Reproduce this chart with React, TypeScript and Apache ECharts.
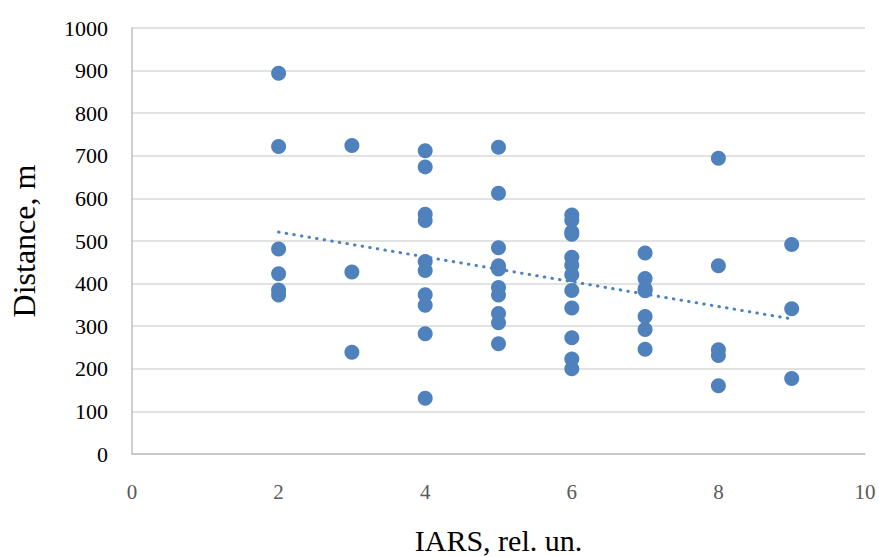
import React, { useEffect, useRef } from "react";
import * as echarts from "echarts";

const xTickLabels = ["0", "2", "4", "6", "8", "10"];
const yTickLabels = ["0", "100", "200", "300", "400", "500", "600", "700", "800", "900", "1000"];

const iars2 = [894, 722, 481, 423, 385, 373];
const iars3 = [724, 427, 239];
const iars4 = [712, 674, 563, 548, 452, 431, 374, 349, 282, 131];
const iars5 = [720, 612, 484, 442, 434, 391, 373, 330, 308, 259];
const iars6 = [561, 549, 521, 516, 462, 443, 421, 384, 343, 273, 223, 200];
const iars7 = [472, 412, 388, 383, 323, 292, 246];
const iars8 = [694, 442, 245, 231, 160];
const iars9 = [492, 341, 177];

const columns: [number, number[]][] = [
  [2, iars2],
  [3, iars3],
  [4, iars4],
  [5, iars5],
  [6, iars6],
  [7, iars7],
  [8, iars8],
  [9, iars9],
];

const points: [number, number][] = [];
columns.forEach(([x, ys]) => ys.forEach((y) => points.push([x, y])));

function linearFit(pts: [number, number][]) {
  const n = pts.length;
  let sx = 0, sy = 0, sxx = 0, sxy = 0;
  pts.forEach(([x, y]) => {
    sx += x; sy += y; sxx += x * x; sxy += x * y;
  });
  const slope = (n * sxy - sx * sy) / (n * sxx - sx * sx);
  const intercept = (sy - slope * sx) / n;
  return { slope, intercept };
}

const fit = linearFit(points);
const xs = points.map((p) => p[0]);
const xMin = Math.min(...xs);
const xMax = Math.max(...xs);
const trend: [number, number][] = [
  [xMin, fit.intercept + fit.slope * xMin],
  [xMax, fit.intercept + fit.slope * xMax],
];

const BLUE = "#4F81BD";
const FONT = "'Liberation Serif', 'DejaVu Serif', serif";

export default function App() {
  const ref = useRef<HTMLDivElement>(null);
  useEffect(() => {
    if (!ref.current) return;
    const chart = echarts.init(ref.current, null, { renderer: "svg" });
    chart.setOption({
      animation: false,
      backgroundColor: "#ffffff",
      grid: {
        left: 132,
        top: 28,
        width: 733,
        height: 426,
        containLabel: false,
        outerBoundsMode: "none",
      },
      xAxis: {
        type: "value",
        min: 0,
        max: 10,
        interval: 2,
        name: "IARS, rel. un.",
        nameLocation: "middle",
        nameGap: 71,
        nameTextStyle: { fontFamily: FONT, fontSize: 30, color: "#000000" },
        axisLine: { show: true, lineStyle: { color: "#BFBFBF", width: 1.5 } },
        axisTick: { show: false },
        splitLine: { show: false },
        axisLabel: {
          margin: 27,
          fontFamily: FONT,
          fontSize: 21,
          color: "#595959",
          formatter: (v: number) => xTickLabels[Math.round(v / 2)] ?? String(v),
        },
      },
      yAxis: {
        type: "value",
        min: 0,
        max: 1000,
        interval: 100,
        name: "Distance, m",
        nameLocation: "middle",
        nameGap: 92,
        nameRotate: 90,
        nameTextStyle: { fontFamily: FONT, fontSize: 32, color: "#000000" },
        axisLine: { show: true, lineStyle: { color: "#BFBFBF", width: 1.5 } },
        axisTick: { show: false },
        splitLine: { show: true, lineStyle: { color: "#D9D9D9", width: 1.5 } },
        axisLabel: {
          margin: 24,
          fontFamily: FONT,
          fontSize: 22,
          color: "#000000",
          formatter: (v: number) => yTickLabels[Math.round(v / 100)] ?? String(v),
        },
      },
      series: [
        {
          type: "scatter",
          data: points,
          symbol: "circle",
          symbolSize: 15,
          itemStyle: { color: BLUE, opacity: 1 },
          z: 3,
        },
        {
          type: "line",
          data: trend,
          symbol: "none",
          lineStyle: { color: BLUE, width: 3, type: [0.5, 7.2], cap: "round" },
          z: 4,
        },
      ],
    });
    return () => chart.dispose();
  }, []);
  return (
    <div
      ref={ref}
      style={{ position: "fixed", left: 0, top: 0, width: 879, height: 557 }}
    />
  );
}
